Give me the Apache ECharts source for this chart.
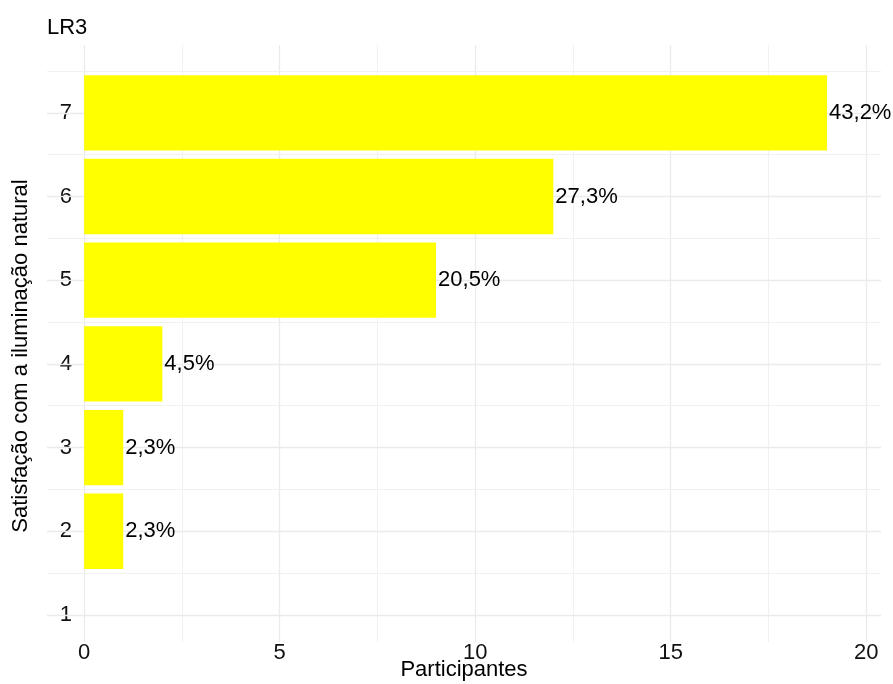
<!DOCTYPE html>
<html>
<head>
<meta charset="utf-8">
<script src="https://cdn.jsdelivr.net/npm/echarts@6/dist/echarts.min.js"></script>
<style>
html,body{margin:0;padding:0;background:#fff;}
#chart{width:893px;height:684px;}
</style>
</head>
<body>
<div id="chart"></div>
<script>
// Data
const categories = [1, 2, 3, 4, 5, 6, 7];
const participants = [0, 1, 1, 2, 9, 12, 19];
const percentLabels = ['', '2,3%', '2,3%', '4,5%', '20,5%', '27,3%', '43,2%'];
const xTicks = [0, 5, 10, 15, 20];
const xMinorTicks = [2.5, 7.5, 12.5, 17.5];
const yTicks = [1, 2, 3, 4, 5, 6, 7];
const yMinorTicks = [1.5, 2.5, 3.5, 4.5, 5.5, 6.5, 7.5];

const FONT = '"Liberation Sans", Arial, Helvetica, sans-serif';
const chart = echarts.init(document.getElementById('chart'), null, {renderer: 'canvas'});

const barData = categories.map((c, i) => [participants[i], c, percentLabels[i]]);

const gridMajor = {color: '#ebebeb', width: 1.3, type: 'solid'};
const gridMinor = {color: '#efefef', width: 0.9, type: 'solid'};

const markData = []
  .concat(xTicks.map(v => ({xAxis: v, lineStyle: gridMajor})))
  .concat(xMinorTicks.map(v => ({xAxis: v, lineStyle: gridMinor})))
  .concat(yTicks.map(v => ({yAxis: v, lineStyle: gridMajor})))
  .concat(yMinorTicks.map(v => ({yAxis: v, lineStyle: gridMinor})));

const option = {
  backgroundColor: '#ffffff',
  animation: false,
  title: {
    text: 'LR3',
    left: 42,
    top: 12,
    textStyle: {fontFamily: FONT, fontSize: 22, fontWeight: 'normal', color: '#000'}
  },
  grid: {left: 47, right: 12, top: 45, bottom: 42, containLabel: false, outerBoundsMode: 'none'},
  xAxis: {
    type: 'value',
    min: -0.95,
    max: 20.38,
    name: 'Participantes',
    nameLocation: 'middle',
    nameGap: 17,
    nameMoveOverlap: false,
    nameTextStyle: {fontFamily: FONT, fontSize: 22, color: '#000'},
    axisLine: {show: false},
    axisTick: {show: false, customValues: xTicks},
    splitLine: {show: false},
    axisLabel: {
      customValues: xTicks,
      fontFamily: FONT, fontSize: 22, color: '#111', margin: 0
    }
  },
  yAxis: {
    type: 'value',
    min: 0.677,
    max: 7.81,
    axisLine: {show: false},
    axisTick: {show: false, customValues: yTicks},
    splitLine: {show: false},
    axisLabel: {
      customValues: yTicks,
      fontFamily: FONT, fontSize: 22, color: '#111', margin: -25
    }
  },
  graphic: [{
    type: 'text',
    x: 21,
    y: 356,
    rotation: Math.PI / 2,
    style: {
      text: 'Satisfação com a iluminação natural',
      font: '22px ' + FONT,
      fill: '#000',
      align: 'center',
      verticalAlign: 'middle'
    }
  }],
  series: [
    {
      type: 'line',
      data: [],
      silent: true,
      z: 1,
      markLine: {
        silent: true,
        symbol: 'none',
        label: {show: false},
        animation: false,
        data: markData
      }
    },
    {
      type: 'custom',
      z: 5,
      data: barData,
      encode: {x: 0, y: 1},
      renderItem: function (params, api) {
        const v = api.value(0);
        const c = api.value(1);
        const label = percentLabels[params.dataIndex];
        const p0 = api.coord([0, c + 0.45]);
        const p1 = api.coord([v, c - 0.45]);
        const children = [];
        if (v > 0) {
          children.push({
            type: 'rect',
            shape: {x: p0[0], y: p0[1], width: p1[0] - p0[0], height: p1[1] - p0[1]},
            style: {fill: '#ffff00'}
          });
          const pc = api.coord([v, c]);
          children.push({
            type: 'text',
            x: pc[0] + 2,
            y: pc[1],
            style: {
              text: label,
              font: '22px ' + FONT,
              fill: '#000',
              align: 'left',
              verticalAlign: 'middle'
            }
          });
        }
        return {type: 'group', children: children};
      }
    }
  ]
};
chart.setOption(option);
</script>
</body>
</html>
